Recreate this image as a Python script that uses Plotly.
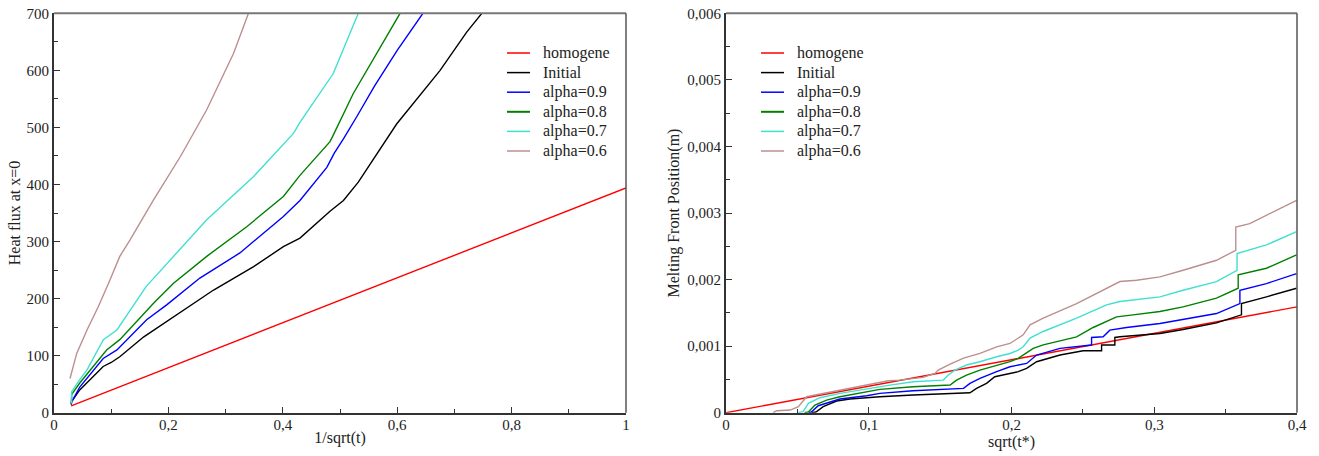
import plotly.graph_objects as go

FONT = "Liberation Serif"
names = ["homogene", "Initial", "alpha=0.9", "alpha=0.8", "alpha=0.7", "alpha=0.6"]
colors = ["#ff0000", "#000000", "#0000ff", "#008000", "#40e0d0", "#bc8f8f"]

# ---------------- Left panel: heat flux vs 1/sqrt(t) ----------------
flux_hom_x = [0.03, 1.0]
flux_hom_y = [11.8, 394]

flux_init_x = [0.03, 0.031, 0.045, 0.06, 0.075, 0.086, 0.1, 0.115, 0.157, 0.209, 0.279, 0.349, 0.401, 0.43, 0.4825, 0.506, 0.532, 0.599, 0.675, 0.7215, 0.748]
flux_init_y = [14, 20, 40, 55, 70, 81, 88, 98, 133, 168, 215, 256, 291, 306, 353, 372, 404, 506, 600, 667, 700]

flux_a09_x = [0.03, 0.031, 0.045, 0.06, 0.086, 0.11, 0.162, 0.197, 0.255, 0.325, 0.401, 0.43, 0.477, 0.49, 0.506, 0.53, 0.56, 0.60, 0.645]
flux_a09_y = [15, 19, 45, 64, 95, 110, 163, 189, 236, 280, 344, 372, 430, 455, 480, 520, 572, 635, 700]

flux_a08_x = [0.03, 0.031, 0.045, 0.06, 0.092, 0.115, 0.174, 0.209, 0.267, 0.337, 0.401, 0.43, 0.4825, 0.488, 0.523, 0.605]
flux_a08_y = [18, 32, 52, 70, 110, 128, 192, 227, 274, 326, 379, 416, 475, 486, 559, 700]

flux_a07_x = [0.031, 0.031, 0.045, 0.0577, 0.0863, 0.11, 0.161, 0.203, 0.267, 0.349, 0.419, 0.43, 0.4825, 0.488, 0.532]
flux_a07_y = [16, 37, 58, 75, 128, 145, 221, 268, 338, 414, 490, 509, 587, 594, 700]

flux_a06_x = [0.028, 0.0397, 0.0577, 0.0776, 0.098, 0.115, 0.133, 0.174, 0.221, 0.267, 0.314, 0.340]
flux_a06_y = [60, 104, 145, 186, 233, 274, 303, 373, 449, 531, 630, 700]

# ---------------- Right panel: melting front position vs sqrt(t*) (values in 1e-3 m) ----------------
front_hom_x = [0.0, 0.4]
front_hom_y = [0.0, 1.59]

front_init_x = [0.06, 0.063, 0.0681, 0.0775, 0.0868, 0.0985, 0.1078, 0.131, 0.1709, 0.1755, 0.1825, 0.1883, 0.1965, 0.2047, 0.2106, 0.2176, 0.234, 0.2502, 0.2631, 0.2631, 0.2724, 0.2724, 0.276, 0.304, 0.3202, 0.3436, 0.3611, 0.3611, 0.3786, 0.3997]
front_init_y = [0.0, 0.01, 0.09, 0.175, 0.205, 0.225, 0.24, 0.266, 0.30, 0.366, 0.44, 0.54, 0.58, 0.616, 0.667, 0.766, 0.866, 0.93, 0.93, 1.016, 1.016, 1.13, 1.14, 1.19, 1.25, 1.35, 1.47, 1.64, 1.74, 1.87]

front_a09_x = [0.058, 0.0598, 0.0646, 0.0728, 0.0798, 0.0985, 0.1078, 0.131, 0.1664, 0.1709, 0.1779, 0.1896, 0.1989, 0.2106, 0.2176, 0.234, 0.2561, 0.2561, 0.2642, 0.2689, 0.2806, 0.304, 0.3202, 0.3436, 0.36, 0.36, 0.3786, 0.3997]
front_a09_y = [0.0, 0.01, 0.105, 0.165, 0.205, 0.255, 0.29, 0.33, 0.366, 0.44, 0.516, 0.616, 0.69, 0.74, 0.866, 0.967, 1.016, 1.13, 1.14, 1.24, 1.28, 1.34, 1.40, 1.49, 1.64, 1.84, 1.94, 2.09]

front_a08_x = [0.055, 0.0577, 0.0623, 0.0705, 0.0798, 0.0985, 0.1078, 0.131, 0.157, 0.1615, 0.1685, 0.1779, 0.1896, 0.1989, 0.2047, 0.2152, 0.2222, 0.2456, 0.2572, 0.2736, 0.2852, 0.304, 0.3202, 0.3436, 0.3588, 0.3588, 0.3786, 0.3997]
front_a08_y = [0.0, 0.01, 0.115, 0.19, 0.24, 0.306, 0.35, 0.39, 0.416, 0.49, 0.566, 0.64, 0.716, 0.766, 0.817, 0.967, 1.02, 1.14, 1.28, 1.44, 1.47, 1.52, 1.59, 1.72, 1.87, 2.07, 2.17, 2.37]

front_a07_x = [0.05, 0.054, 0.0577, 0.0658, 0.0798, 0.0985, 0.1078, 0.1137, 0.131, 0.1522, 0.1557, 0.1604, 0.1685, 0.1779, 0.1896, 0.1989, 0.2047, 0.2082, 0.213, 0.2222, 0.2456, 0.2666, 0.276, 0.2969, 0.304, 0.3202, 0.3436, 0.358, 0.358, 0.3786, 0.3997]
front_a07_y = [0.0, 0.015, 0.14, 0.225, 0.29, 0.356, 0.40, 0.41, 0.465, 0.49, 0.566, 0.64, 0.716, 0.766, 0.84, 0.89, 0.94, 0.99, 1.12, 1.22, 1.42, 1.62, 1.67, 1.73, 1.74, 1.84, 1.97, 2.14, 2.39, 2.52, 2.72]

front_a06_x = [0.033, 0.0355, 0.045, 0.0507, 0.0565, 0.0658, 0.0798, 0.0985, 0.1137, 0.1218, 0.138, 0.1464, 0.1487, 0.157, 0.1664, 0.1779, 0.1896, 0.1989, 0.2047, 0.2082, 0.213, 0.2222, 0.2456, 0.2642, 0.276, 0.2876, 0.304, 0.3202, 0.3436, 0.3571, 0.3571, 0.3669, 0.3997]
front_a06_y = [0.0, 0.03, 0.04, 0.09, 0.24, 0.28, 0.34, 0.42, 0.48, 0.49, 0.53, 0.59, 0.64, 0.73, 0.82, 0.89, 0.99, 1.04, 1.12, 1.17, 1.32, 1.42, 1.64, 1.84, 1.97, 1.99, 2.04, 2.14, 2.29, 2.44, 2.79, 2.84, 3.19]

left_series = [(flux_hom_x, flux_hom_y), (flux_init_x, flux_init_y), (flux_a09_x, flux_a09_y),
               (flux_a08_x, flux_a08_y), (flux_a07_x, flux_a07_y), (flux_a06_x, flux_a06_y)]
right_series = [(front_hom_x, front_hom_y), (front_init_x, front_init_y), (front_a09_x, front_a09_y),
                (front_a08_x, front_a08_y), (front_a07_x, front_a07_y), (front_a06_x, front_a06_y)]

left_xticks = [0, 0.2, 0.4, 0.6, 0.8, 1.0]
left_xtext = ["0", "0,2", "0,4", "0,6", "0,8", "1"]
left_yticks = [0, 100, 200, 300, 400, 500, 600, 700]
left_ytext = ["0", "100", "200", "300", "400", "500", "600", "700"]
right_xticks = [0, 0.1, 0.2, 0.3, 0.4]
right_xtext = ["0", "0,1", "0,2", "0,3", "0,4"]
right_yticks = [0, 0.001, 0.002, 0.003, 0.004, 0.005, 0.006]
right_ytext = ["0", "0,001", "0,002", "0,003", "0,004", "0,005", "0,006"]

# The page body margin is removed (post_script), so the figure fills the 1319x456 window.
W, H, OFF = 1319, 456, 0


def px_x(p):
    return (p - OFF) / W


def px_y(p):
    return 1 - (p - OFF) / H


fig = go.Figure()
for i, (xs, ys) in enumerate(left_series):
    fig.add_trace(go.Scatter(x=xs, y=ys, mode="lines", name=names[i], showlegend=False,
                             line=dict(color=colors[i], width=1.4), xaxis="x", yaxis="y"))
for i, (xs, ys) in enumerate(right_series):
    fig.add_trace(go.Scatter(x=xs, y=[v * 1e-3 for v in ys], mode="lines", name=names[i], showlegend=False,
                             line=dict(color=colors[i], width=1.4), xaxis="x2", yaxis="y2"))

axis_common = dict(showgrid=False, zeroline=False, showline=True, linecolor="#333333", linewidth=2,
                   ticks="inside", ticklen=6, tickwidth=1.2, tickcolor="#333333",
                   tickfont=dict(family=FONT, size=15, color="#222222"),
                   ticklabeloverflow="allow", automargin=False, mirror=False)

dom_l = [px_x(54), px_x(626)]
dom_r = [px_x(726), px_x(1297)]
dom_y = [px_y(412.7), px_y(13.3)]
TFONT = dict(family=FONT, size=16, color="#222222")

fig.update_layout(
    template="none",
    width=W, height=H,
    margin=dict(l=0, r=0, t=0, b=0),
    paper_bgcolor="white", plot_bgcolor="white",
    font=dict(family=FONT, color="#222222"),
    showlegend=False,
    xaxis=dict(domain=dom_l, range=[0, 1], anchor="y", tickmode="array", tickvals=left_xticks, ticktext=left_xtext,
               minor=dict(ticks="inside", ticklen=4, tickcolor="#333333", tickvals=[0.1, 0.3, 0.5, 0.7, 0.9]),
               ticklabelstandoff=-3,
               title=dict(text="1/sqrt(t)", font=TFONT, standoff=0), **axis_common),
    yaxis=dict(domain=dom_y, range=[0, 700], anchor="x", tickmode="array", tickvals=left_yticks, ticktext=left_ytext,
               minor=dict(ticks="inside", ticklen=4, tickcolor="#333333", tickvals=[50, 150, 250, 350, 450, 550, 650]),
               title=dict(text="Heat flux at x=0", font=TFONT, standoff=2), **axis_common),
    xaxis2=dict(domain=dom_r, range=[0, 0.4], anchor="y2", tickmode="array", tickvals=right_xticks, ticktext=right_xtext,
                minor=dict(ticks="inside", ticklen=4, tickcolor="#333333", tickvals=[0.05, 0.15, 0.25, 0.35]),
                ticklabelstandoff=-3,
                title=dict(text="sqrt(t*)", font=TFONT, standoff=0), **axis_common),
    yaxis2=dict(domain=dom_y, range=[0, 0.006], anchor="x2", tickmode="array", tickvals=right_yticks, ticktext=right_ytext,
                minor=dict(ticks="inside", ticklen=4, tickcolor="#333333",
                           tickvals=[0.0005, 0.0015, 0.0025, 0.0035, 0.0045, 0.0055]),
                title=dict(text="Melting Front Position(m)", font=TFONT, standoff=4), **axis_common),
)

# top / right frame lines
for xr, yr in [("x domain", "y domain"), ("x2 domain", "y2 domain")]:
    fig.add_shape(type="line", xref=xr, yref=yr, x0=0, x1=1, y0=1, y1=1, line=dict(color="#777777", width=2))
    fig.add_shape(type="line", xref=xr, yref=yr, x0=1, x1=1, y0=0, y1=1, line=dict(color="#555555", width=1.5))

# legends (one per panel), built from the series names/colours
legend_layout = [(507, 530, 541), (761, 784, 795)]  # sample start, sample end, text start (page px)
row0, row_gap = 53, 19.6
for (s0, s1, t0) in legend_layout:
    for i, name in enumerate(names):
        yy = px_y(row0 + i * row_gap)
        fig.add_shape(type="line", xref="paper", yref="paper", x0=px_x(s0), x1=px_x(s1), y0=yy, y1=yy,
                      line=dict(color=colors[i], width=2 if i == 3 else 1.5))
        fig.add_annotation(xref="paper", yref="paper", x=px_x(t0), y=yy, text=name, showarrow=False,
                           xanchor="left", yanchor="middle", font=dict(family=FONT, size=16, color="#222222"))

fig.write_html("out.html", config={"displayModeBar": False},
               post_script="document.body.style.margin='0';document.body.style.overflow='hidden';")
